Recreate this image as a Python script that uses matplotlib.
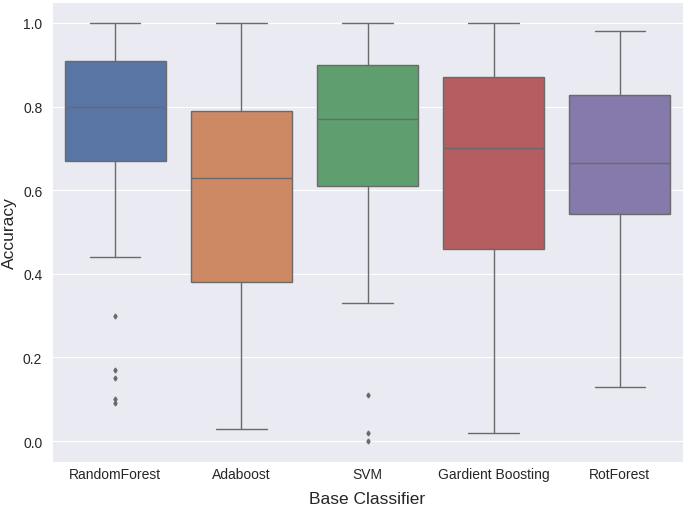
import matplotlib
matplotlib.use("Agg")
import matplotlib.pyplot as plt
import seaborn as sns

# === Données ===
classifiers = ["RandomForest", "Adaboost", "SVM", "Gardient Boosting", "RotForest"]
whisker_low = [0.44, 0.03, 0.33, 0.02, 0.13]
q1 = [0.67, 0.38, 0.61, 0.46, 0.543]
median = [0.80, 0.63, 0.77, 0.70, 0.665]
q3 = [0.91, 0.79, 0.90, 0.87, 0.828]
whisker_high = [1.0, 1.0, 1.0, 1.0, 0.98]
outliers = [
    [0.30, 0.17, 0.15, 0.10, 0.09],
    [],
    [0.11, 0.02, 0.0],
    [],
    [],
]
y_ticks = [0.0, 0.2, 0.4, 0.6, 0.8, 1.0]

sns.set_style("darkgrid")
plt.rcParams["font.family"] = ["Liberation Sans", "DejaVu Sans"]

stats = []
for i, name in enumerate(classifiers):
    stats.append({
        "label": name,
        "whislo": whisker_low[i],
        "q1": q1[i],
        "med": median[i],
        "q3": q3[i],
        "whishi": whisker_high[i],
        "fliers": outliers[i],
    })

fig = plt.figure(figsize=(6.85, 5.06), dpi=100)
ax = fig.add_axes([52 / 685, 1 - 463 / 506, 631 / 685, 460 / 506])

gray = "#6a6a6a"
palette = [sns.desaturate(c, 0.75) for c in sns.color_palette("deep", len(classifiers))]

bp = ax.bxp(stats, positions=range(len(classifiers)), widths=0.8, patch_artist=True,
            boxprops=dict(edgecolor=gray, linewidth=1.0),
            whiskerprops=dict(color=gray, linewidth=1.0),
            capprops=dict(color=gray, linewidth=1.0),
            medianprops=dict(color=gray, linewidth=1.0),
            flierprops=dict(marker="d", markersize=2.5, markerfacecolor=gray,
                            markeredgecolor=gray, linestyle="none"))
for patch, col in zip(bp["boxes"], palette):
    patch.set_facecolor(col)

ax.set_xlim(-0.5, len(classifiers) - 0.5)
ax.set_ylim(-0.05, 1.05)
ax.set_yticks(y_ticks)
ax.set_xticks(range(len(classifiers)))
ax.set_xticklabels(classifiers)
ax.tick_params(labelsize=10)
ax.tick_params(axis="x", pad=0)
ax.xaxis.grid(False)
ax.set_ylabel("Accuracy", fontsize=12.5, labelpad=4)
ax.set_xlabel("Base Classifier", fontsize=12.5, labelpad=7)

fig.savefig("out.png", dpi=100)
